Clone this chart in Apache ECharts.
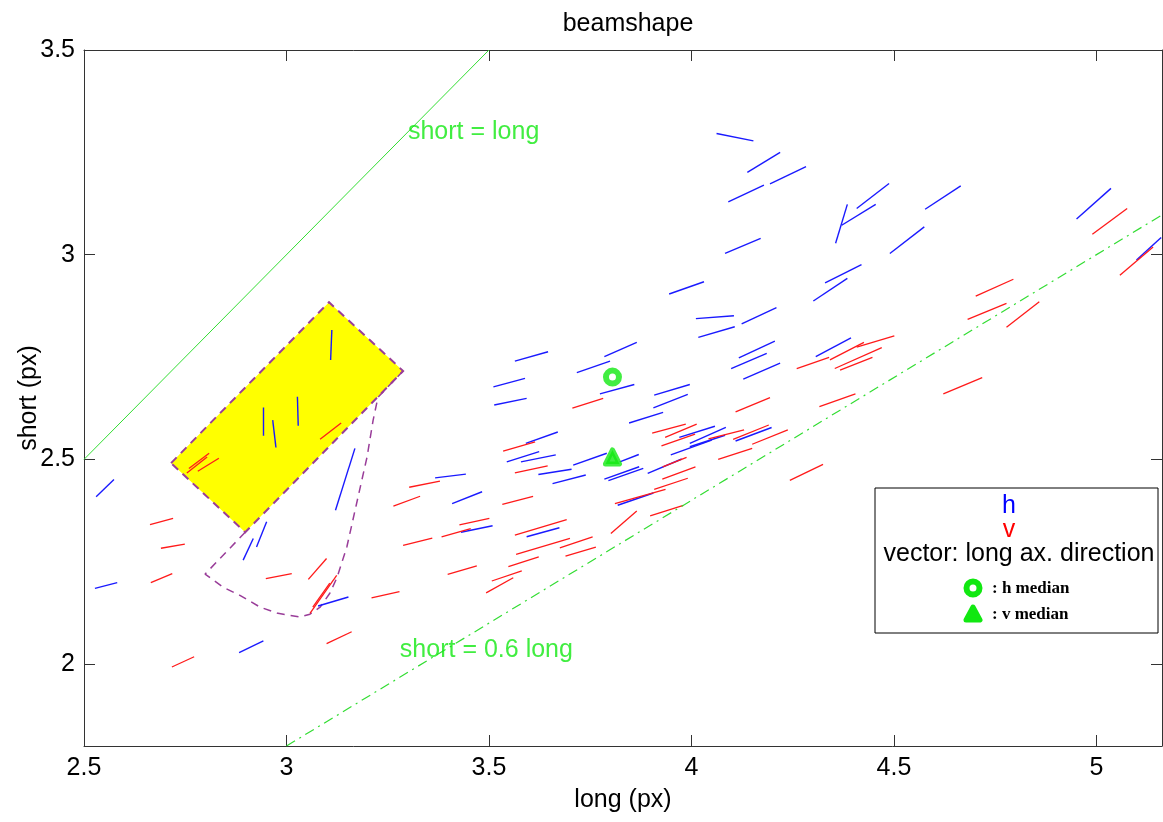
<!DOCTYPE html>
<html>
<head>
<meta charset="utf-8">
<title>beamshape</title>
<script src="https://cdn.jsdelivr.net/npm/echarts@6/dist/echarts.min.js"></script>
<style>
  html, body { margin: 0; padding: 0; background: #fff; }
  #chart { width: 1163px; height: 822px; }
</style>
</head>
<body>
<div id="chart"></div>
<script>
// axis ranges and ticks
const xRange = [2.5, 5.162]
const yRange = [1.8, 3.5]
const xTicks = [2.5, 3, 3.5, 4, 4.5, 5]
const yTicks = [2, 2.5, 3, 3.5]

// long axis direction vectors, [x1, y1, x2, y2]
const hSegments = [
  [3.112, 2.816, 3.109, 2.743], [2.943, 2.627, 2.943, 2.558], [2.966, 2.596, 2.974, 2.529],
  [3.027, 2.653, 3.029, 2.582], [3.169, 2.527, 3.121, 2.376], [2.574, 2.451, 2.530, 2.409],
  [2.951, 2.348, 2.926, 2.286], [2.918, 2.307, 2.893, 2.254], [2.582, 2.199, 2.527, 2.185],
  [3.153, 2.164, 3.078, 2.142], [2.943, 2.057, 2.883, 2.028], [4.107, 2.824, 4.017, 2.798],
  [4.210, 2.871, 4.124, 2.831], [3.646, 2.763, 3.564, 2.740], [3.865, 2.786, 3.785, 2.751],
  [3.799, 2.740, 3.717, 2.712], [3.589, 2.698, 3.511, 2.677], [3.593, 2.649, 3.513, 2.633],
  [3.859, 2.683, 3.774, 2.660], [4.206, 2.789, 4.117, 2.748], [4.186, 2.759, 4.098, 2.722],
  [4.219, 2.735, 4.128, 2.696], [3.996, 2.683, 3.908, 2.657], [3.991, 2.659, 3.906, 2.626],
  [3.930, 2.615, 3.846, 2.589], [3.670, 2.567, 3.591, 2.539], [3.624, 2.519, 3.544, 2.494],
  [3.665, 2.511, 3.579, 2.494], [3.704, 2.476, 3.622, 2.463], [3.739, 2.462, 3.657, 2.441],
  [3.791, 2.515, 3.708, 2.486], [3.870, 2.512, 3.823, 2.494], [3.871, 2.482, 3.785, 2.452],
  [3.881, 2.478, 3.795, 2.448], [3.976, 2.501, 3.892, 2.466], [4.058, 2.581, 3.970, 2.554],
  [4.085, 2.578, 3.996, 2.539], [4.083, 2.559, 3.996, 2.531], [4.050, 2.547, 3.949, 2.511],
  [4.198, 2.578, 4.109, 2.545], [3.443, 2.464, 3.367, 2.455], [3.483, 2.421, 3.409, 2.392],
  [3.906, 2.418, 3.818, 2.388], [3.509, 2.338, 3.431, 2.322], [3.674, 2.333, 3.593, 2.311],
  [4.062, 3.296, 4.153, 3.278], [4.219, 3.250, 4.138, 3.201], [4.283, 3.215, 4.194, 3.173],
  [4.179, 3.170, 4.091, 3.129], [4.171, 3.040, 4.083, 3.003], [4.031, 2.934, 3.945, 2.904],
  [4.105, 2.851, 4.011, 2.844], [4.488, 3.174, 4.408, 3.113], [4.455, 3.123, 4.371, 3.072],
  [4.385, 3.123, 4.356, 3.028], [4.665, 3.168, 4.577, 3.111], [4.575, 3.068, 4.490, 3.003],
  [4.420, 2.976, 4.330, 2.931], [4.385, 2.942, 4.301, 2.887], [5.036, 3.162, 4.951, 3.087],
  [5.160, 3.042, 5.099, 2.987], [4.394, 2.797, 4.307, 2.751]
]
const vSegments = [
  [3.135, 2.589, 3.083, 2.549], [2.809, 2.515, 2.759, 2.478], [2.804, 2.506, 2.754, 2.467],
  [2.833, 2.503, 2.781, 2.471], [2.720, 2.356, 2.663, 2.341], [2.749, 2.293, 2.690, 2.283],
  [3.379, 2.447, 3.303, 2.432], [3.330, 2.410, 3.264, 2.386], [3.360, 2.308, 3.288, 2.290],
  [2.718, 2.221, 2.665, 2.199], [3.013, 2.221, 2.949, 2.209], [3.099, 2.258, 3.054, 2.207],
  [3.124, 2.217, 3.058, 2.124], [3.107, 2.198, 3.065, 2.139], [3.279, 2.177, 3.210, 2.162],
  [3.161, 2.079, 3.099, 2.050], [2.772, 2.018, 2.717, 1.993], [3.782, 2.649, 3.706, 2.625],
  [4.194, 2.651, 4.109, 2.616], [3.986, 2.586, 3.903, 2.564], [4.013, 2.586, 3.935, 2.554],
  [4.009, 2.562, 3.926, 2.533], [4.130, 2.572, 4.042, 2.550], [4.191, 2.584, 4.103, 2.549],
  [4.238, 2.572, 4.150, 2.537], [4.150, 2.527, 4.066, 2.500], [3.614, 2.543, 3.535, 2.520],
  [3.645, 2.484, 3.564, 2.467], [3.988, 2.505, 3.929, 2.482], [4.010, 2.482, 3.928, 2.452],
  [3.991, 2.454, 3.908, 2.427], [3.936, 2.427, 3.811, 2.392], [3.609, 2.410, 3.533, 2.390],
  [3.865, 2.374, 3.801, 2.319], [3.980, 2.388, 3.898, 2.362], [3.501, 2.356, 3.427, 2.340],
  [3.455, 2.331, 3.383, 2.311], [3.692, 2.353, 3.564, 2.315], [3.700, 2.307, 3.567, 2.268],
  [3.756, 2.311, 3.675, 2.284], [3.764, 2.286, 3.689, 2.264], [3.623, 2.262, 3.548, 2.238],
  [3.470, 2.240, 3.398, 2.219], [3.581, 2.228, 3.507, 2.203], [3.560, 2.211, 3.493, 2.174],
  [4.325, 2.488, 4.243, 2.449], [5.076, 3.113, 4.990, 3.050], [5.140, 3.019, 5.058, 2.950],
  [4.795, 2.940, 4.702, 2.899], [4.778, 2.881, 4.682, 2.842], [4.859, 2.885, 4.778, 2.823],
  [4.501, 2.802, 4.408, 2.774], [4.426, 2.786, 4.342, 2.743], [4.470, 2.773, 4.354, 2.722],
  [4.447, 2.749, 4.367, 2.718], [4.340, 2.749, 4.260, 2.722], [4.405, 2.660, 4.316, 2.629],
  [4.718, 2.700, 4.622, 2.660]
]

// selected region (yellow box) and its dashed outline
const yellowBox = [[2.715, 2.491], [3.105, 2.884], [3.288, 2.716], [2.898, 2.322]]
const outlinePath = [
  [2.898, 2.322], [2.799, 2.220], [2.843, 2.188], [2.885, 2.168], [2.935, 2.139],
  [2.979, 2.124], [3.033, 2.115], [3.058, 2.122], [3.083, 2.139], [3.107, 2.173],
  [3.125, 2.212], [3.149, 2.286], [3.164, 2.352], [3.186, 2.449], [3.199, 2.506],
  [3.214, 2.596], [3.226, 2.652], [3.288, 2.716]
]

// reference lines and their labels
const identityLine = [[2.5, 2.5], [3.5, 3.5]]
const ratioLine = [[3, 1.8], [5.3, 3.18]]
const identityLabel = [3.3, 3.3]
const ratioLabel = [3.28, 2.035]

// medians
const hMedian = [3.805, 2.701]
const vMedian = [3.805, 2.506]

const FONT = '"Liberation Sans", Arial, Helvetica, sans-serif'
const GREEN = '#11e811'
const PURPLE = '#993d99'

const toLines = segs => segs.map(s => ({ coords: [[s[0], s[1]], [s[2], s[3]]] }))

const chart = echarts.init(document.getElementById('chart'), null, { renderer: 'canvas' })

const axisCommon = {
  type: 'value',
  axisLine: { show: true, lineStyle: { color: '#333', width: 1 } },
  axisTick: { show: true, inside: true, length: 11, lineStyle: { color: '#333' } },
  splitLine: { show: false }
}

chart.setOption({
  animation: false,
  backgroundColor: '#fff',
  title: {
    text: 'beamshape',
    left: 623,
    textAlign: 'center',
    top: 7,
    textStyle: { fontFamily: FONT, fontSize: 25, fontWeight: 'normal', color: '#000' }
  },
  grid: { left: 84, right: 1, top: 50, bottom: 76, outerBoundsMode: 'none' },
  xAxis: [
    Object.assign({}, axisCommon, {
      min: xRange[0], max: xRange[1], position: 'bottom',
      name: 'long (px)', nameLocation: 'middle', nameGap: 42, nameMoveOverlap: false,
      nameTextStyle: { fontFamily: FONT, fontSize: 25, color: '#000' },
      axisTick: Object.assign({}, axisCommon.axisTick, { customValues: xTicks }),
      axisLabel: { customValues: xTicks, margin: 10, fontFamily: FONT, fontSize: 25, color: '#000' }
    }),
    Object.assign({}, axisCommon, {
      min: xRange[0], max: xRange[1], position: 'top',
      axisTick: Object.assign({}, axisCommon.axisTick, { customValues: xTicks }),
      axisLabel: { show: false }
    })
  ],
  yAxis: [
    Object.assign({}, axisCommon, {
      min: yRange[0], max: yRange[1], position: 'left',
      name: 'short (px)', nameLocation: 'middle', nameGap: 42, nameMoveOverlap: false,
      nameTextStyle: { fontFamily: FONT, fontSize: 25, color: '#000' },
      axisTick: Object.assign({}, axisCommon.axisTick, { customValues: yTicks }),
      axisLabel: { customValues: yTicks, margin: 9, fontFamily: FONT, fontSize: 25, color: '#000' }
    }),
    Object.assign({}, axisCommon, {
      min: yRange[0], max: yRange[1], position: 'right',
      axisTick: Object.assign({}, axisCommon.axisTick, { customValues: yTicks }),
      axisLabel: { show: false }
    })
  ],
  series: [
    {
      type: 'custom',
      silent: true,
      z: 1,
      data: [yellowBox[0]],
      renderItem: (params, api) => ({
        type: 'polygon',
        shape: { points: yellowBox.map(p => api.coord(p)) },
        style: { fill: '#ffff00', stroke: PURPLE, lineWidth: 2, lineDash: [8, 6] }
      })
    },
    {
      type: 'line',
      data: outlinePath,
      showSymbol: false,
      silent: true,
      z: 2,
      lineStyle: { color: PURPLE, width: 1.5, type: [8, 6] }
    },
    {
      type: 'line',
      data: identityLine,
      showSymbol: false,
      silent: true,
      lineStyle: { color: '#33dd33', width: 1 }
    },
    {
      type: 'line',
      data: ratioLine,
      showSymbol: false,
      silent: true,
      lineStyle: { color: '#33dd33', width: 1.2, type: [10, 5, 2, 5] }
    },
    {
      type: 'lines',
      coordinateSystem: 'cartesian2d',
      polyline: false,
      silent: true,
      z: 3,
      data: toLines(hSegments),
      lineStyle: { color: '#1a1aff', width: 1.4, opacity: 1 }
    },
    {
      type: 'lines',
      coordinateSystem: 'cartesian2d',
      polyline: false,
      silent: true,
      z: 3,
      data: toLines(vSegments),
      lineStyle: { color: '#ff1a1a', width: 1.3, opacity: 1 }
    },
    {
      type: 'scatter',
      silent: true,
      z: 5,
      data: [
        { value: hMedian, symbol: 'circle', symbolSize: 13,
          itemStyle: { color: '#fff', borderColor: GREEN, borderWidth: 6 } },
        { value: vMedian, symbol: 'triangle', symbolSize: 14,
          itemStyle: { color: GREEN, borderColor: GREEN, borderWidth: 5, borderJoin: 'round' } }
      ]
    },
    {
      type: 'scatter',
      silent: true,
      symbolSize: 0,
      z: 4,
      data: [
        { value: identityLabel, name: 'short = long' },
        { value: ratioLabel, name: 'short = 0.6 long' }
      ],
      label: {
        show: true, position: 'right', distance: 0, formatter: '{b}',
        fontFamily: FONT, fontSize: 25, color: GREEN
      }
    }
  ],
  graphic: [
    {
      type: 'rect', z: 100,
      shape: { x: 875, y: 488, width: 283, height: 145 },
      style: { fill: '#fff', stroke: '#000', lineWidth: 1 }
    },
    {
      type: 'text', z: 101, x: 1009, y: 506,
      style: { text: 'h', fill: '#0000ff', font: '25px ' + FONT, align: 'center', verticalAlign: 'middle' }
    },
    {
      type: 'text', z: 101, x: 1009, y: 530,
      style: { text: 'v', fill: '#ff0000', font: '25px ' + FONT, align: 'center', verticalAlign: 'middle' }
    },
    {
      type: 'text', z: 101, x: 1019, y: 554,
      style: { text: 'vector: long ax. direction', fill: '#000', font: '25px ' + FONT, align: 'center', verticalAlign: 'middle' }
    },
    {
      type: 'circle', z: 101,
      shape: { cx: 973, cy: 588, r: 6.5 },
      style: { fill: '#fff', stroke: GREEN, lineWidth: 6 }
    },
    {
      type: 'text', z: 101, x: 992, y: 589,
      style: { text: ': h median', fill: '#000', font: 'bold 17px "Liberation Serif", "DejaVu Serif", serif', verticalAlign: 'middle' }
    },
    {
      type: 'polygon', z: 101,
      shape: { points: [[973, 607], [980, 620], [966, 620]] },
      style: { fill: GREEN, stroke: GREEN, lineWidth: 5, lineJoin: 'round' }
    },
    {
      type: 'text', z: 101, x: 992, y: 615,
      style: { text: ': v median', fill: '#000', font: 'bold 17px "Liberation Serif", "DejaVu Serif", serif', verticalAlign: 'middle' }
    }
  ]
})
</script>
</body>
</html>
